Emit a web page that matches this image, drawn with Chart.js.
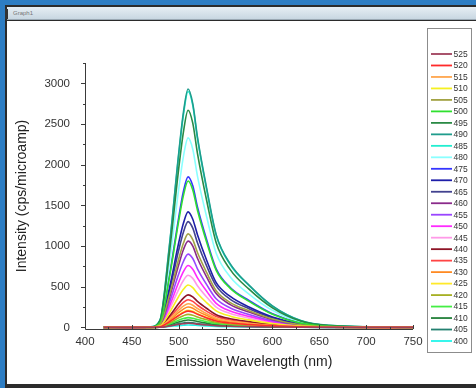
<!DOCTYPE html>
<html>
<head>
<meta charset="utf-8">
<script src="https://cdn.jsdelivr.net/npm/chart.js@4.4.1/dist/chart.umd.min.js"></script>
<style>
  html, body { margin: 0; padding: 0; }
  body { width: 476px; height: 388px; background: #2d7dc3; position: relative; overflow: hidden; }
  #frame { position: absolute; left: 5px; top: 5px; width: 471px; height: 383px; background: #2b2b2b; }
  #titlebar { position: absolute; left: 7px; top: 7px; right: 0; height: 13px; background: linear-gradient(#e6eef4, #c8d7e2); border-bottom: 1px solid #9aa8b3; font: 6px 'Liberation Sans', sans-serif; color: #777; line-height: 13px; padding-left: 6px; box-sizing: border-box; }
  #icon { position: absolute; left: 5px; top: 9px; width: 3px; height: 10px; background: #333; }
  #content { position: absolute; left: 7px; top: 21px; right: 0; bottom: 4px; background: #fff; }
  #chart { position: absolute; left: 0; top: 0; }
</style>
</head>
<body>
<div id="frame"></div>
<div id="titlebar">Graph1</div>
<div id="icon"></div>
<div id="content"></div>
<canvas id="chart" width="476" height="388"></canvas>
<script>
// emission wavelengths (nm) at which the spectra are sampled
const wavelengths = [420, 470, 480, 490, 500, 505, 510, 515, 520, 530, 540, 555, 575, 600, 630, 660, 750];

// excitation wavelengths, legend order
const excitationLabels = ['525', '520', '515', '510', '505', '500', '495', '490', '485', '480', '475', '470', '465',
                          '460', '455', '450', '445', '440', '435', '430', '425', '420', '415', '410', '405', '400'];

// intensity (cps/microamp) for each excitation wavelength
const ex525 = [0, 0, 1, 17, 37, 45, 50, 47, 40, 29, 20, 13, 9, 5, 1, 0, 0];
const ex520 = [0, 0, 6, 68, 146, 180, 200, 188, 160, 116, 78, 53, 35, 18, 6, 2, 0];
const ex515 = [0, 1, 9, 99, 212, 261, 290, 273, 232, 168, 113, 77, 51, 26, 8, 2, 0];
const ex510 = [0, 1, 16, 177, 380, 468, 520, 489, 416, 302, 203, 138, 92, 47, 15, 4, 0];
const ex505 = [0, 2, 35, 390, 840, 1035, 1150, 1080, 920, 670, 450, 305, 204, 104, 33, 9, 0];
const ex500 = [0, 4, 54, 610, 1310, 1620, 1800, 1690, 1440, 1040, 700, 480, 320, 162, 52, 14, 0];
const ex495 = [0, 5, 80, 910, 1950, 2400, 2670, 2510, 2140, 1550, 1040, 710, 470, 240, 77, 21, 0];
const ex490 = [0, 6, 90, 1000, 2140, 2640, 2930, 2750, 2340, 1700, 1140, 780, 520, 265, 85, 25, 0];
const ex485 = [0, 6, 85, 985, 2120, 2610, 2900, 2730, 2320, 1680, 1130, 770, 515, 260, 84, 23, 0];
const ex480 = [0, 5, 70, 790, 1700, 2100, 2330, 2190, 1860, 1350, 910, 620, 410, 210, 68, 19, 0];
const ex475 = [0, 4, 55, 630, 1350, 1670, 1850, 1740, 1480, 1070, 720, 490, 330, 167, 54, 15, 0];
const ex470 = [0, 3, 43, 480, 1040, 1280, 1420, 1330, 1140, 820, 550, 380, 250, 128, 41, 11, 0];
const ex465 = [0, 3, 39, 440, 950, 1170, 1300, 1220, 1040, 750, 510, 345, 230, 117, 38, 10, 0];
const ex460 = [0, 2, 32, 360, 770, 955, 1060, 1000, 850, 615, 415, 280, 188, 95, 31, 8, 0];
const ex455 = [0, 2, 27, 306, 657, 810, 900, 846, 720, 522, 351, 238, 159, 81, 26, 7, 0];
const ex450 = [0, 2, 23, 258, 555, 684, 760, 714, 608, 441, 296, 201, 135, 68, 22, 6, 0];
const ex445 = [0, 1, 19, 218, 467, 576, 640, 602, 512, 371, 250, 170, 113, 58, 19, 5, 0];
const ex440 = [0, 1, 12, 136, 292, 360, 400, 376, 320, 232, 156, 106, 71, 36, 12, 3, 0];
const ex435 = [0, 1, 10, 116, 248, 306, 340, 320, 272, 197, 133, 90, 60, 31, 10, 3, 0];
const ex430 = [0, 1, 8, 85, 183, 225, 250, 235, 200, 145, 98, 66, 44, 23, 7, 2, 0];
const ex425 = [0, 0, 6, 71, 153, 189, 210, 197, 168, 122, 82, 56, 37, 19, 6, 2, 0];
const ex420 = [0, 0, 5, 54, 117, 144, 160, 150, 128, 93, 62, 42, 28, 14, 5, 1, 0];
const ex415 = [0, 0, 4, 41, 88, 108, 120, 113, 96, 70, 47, 32, 21, 11, 3, 1, 0];
const ex410 = [0, 0, 3, 31, 66, 81, 90, 85, 72, 52, 35, 24, 16, 8, 3, 1, 0];
const ex405 = [0, 0, 2, 20, 44, 54, 60, 56, 48, 35, 23, 16, 11, 5, 2, 0, 0];
const ex400 = [0, 0, 1, 10, 22, 27, 30, 28, 24, 17, 12, 8, 5, 3, 1, 0, 0];

const spectra = [ex525, ex520, ex515, ex510, ex505, ex500, ex495, ex490, ex485, ex480, ex475, ex470, ex465,
                 ex460, ex455, ex450, ex445, ex440, ex435, ex430, ex425, ex420, ex415, ex410, ex405, ex400];

const xTickValues = [400, 450, 500, 550, 600, 650, 700, 750];
const yTickValues = [0, 500, 1000, 1500, 2000, 2500, 3000];

const lineColors = ['#a0405c', '#ff2a2a', '#ffa64d', '#f5f020', '#a3a345', '#2fe02f', '#2a8a45', '#1f9c8c',
                    '#22eed0', '#8affff', '#3535ff', '#1e1ea8', '#42428f', '#8a2a8a', '#9a45ff', '#ff2aff',
                    '#ff9ae8', '#8e1426', '#ff4545', '#ff8a22', '#ffe92a', '#a6b024', '#44ee44', '#23803a',
                    '#238070', '#22f5ea'];

const datasets = spectra.map((vals, i) => ({
  label: excitationLabels[i],
  data: vals.map((v, j) => ({ x: wavelengths[j], y: v })),
  borderColor: lineColors[i],
  backgroundColor: lineColors[i],
  borderWidth: 1.6,
  pointRadius: 0,
  cubicInterpolationMode: 'monotone',
  fill: false
}));

// Origin style axes (left + bottom), tick marks and boxed legend
const originDecor = {
  id: 'originDecor',
  afterDraw(chart) {
    const ctx = chart.ctx;
    const xs = chart.scales.x, ys = chart.scales.y;
    const area = chart.chartArea;
    ctx.save();
    ctx.strokeStyle = '#3a3a3a';
    ctx.lineWidth = 1;
    ctx.beginPath();
    ctx.moveTo(area.left + 0.5, area.top);
    ctx.lineTo(area.left + 0.5, area.bottom + 0.5);
    ctx.lineTo(area.right, area.bottom + 0.5);
    for (let v = 0; v <= 3250; v += 250) {
      const y = Math.round(ys.getPixelForValue(v)) + 0.5;
      const len = v % 500 === 0 ? 4 : 2;
      ctx.moveTo(area.left - len, y);
      ctx.lineTo(area.left, y);
    }
    for (let v = 400; v <= 750; v += 25) {
      const x = Math.round(xs.getPixelForValue(v)) + 0.5;
      const len = v % 50 === 0 ? 4 : 2;
      ctx.moveTo(x, area.bottom - len);
      ctx.lineTo(x, area.bottom);
    }
    ctx.stroke();

    // legend box
    const box = { left: 427.5, top: 28.5, right: 471.5, bottom: 352.5 };
    ctx.strokeStyle = '#8c8c8c';
    ctx.strokeRect(box.left, box.top, box.right - box.left, box.bottom - box.top);
    ctx.font = '8.5px "Liberation Sans", sans-serif';
    ctx.textBaseline = 'middle';
    ctx.fillStyle = '#333';
    chart.data.datasets.forEach((ds, i) => {
      const y = 54 + i * 11.48;
      ctx.strokeStyle = ds.borderColor;
      ctx.lineWidth = 1.8;
      ctx.beginPath();
      ctx.moveTo(431, y);
      ctx.lineTo(452, y);
      ctx.stroke();
      ctx.fillText(ds.label, 453.5, y + 0.5);
    });
    ctx.restore();
  }
};

new Chart(document.getElementById('chart'), {
  type: 'line',
  data: { datasets: datasets },
  plugins: [originDecor],
  options: {
    responsive: false,
    animation: false,
    layout: { padding: { left: 7, top: 63, right: 63, bottom: 4 } },
    plugins: { legend: { display: false }, tooltip: { enabled: false } },
    scales: {
      x: {
        type: 'linear',
        min: 400,
        max: 750,
        grid: { display: false },
        border: { display: false },
        afterBuildTicks: s => { s.ticks = xTickValues.map(v => ({ value: v })); },
        afterFit: s => { s.height = 55; },
        ticks: { color: '#333', padding: -2, maxRotation: 0, font: { size: 11.5, family: 'Liberation Sans' },
                 callback: v => String(v) },
        title: { display: true, text: 'Emission Wavelength (nm)', color: '#222',
                 font: { size: 14, family: 'Liberation Sans' }, padding: { top: 0, bottom: 13 } }
      },
      y: {
        min: -20,
        max: 3250,
        grid: { display: false },
        border: { display: false },
        afterBuildTicks: s => { s.ticks = yTickValues.map(v => ({ value: v })); },
        afterFit: s => { s.width = 78; },
        ticks: { color: '#333', padding: 7, font: { size: 11.5, family: 'Liberation Sans' },
                 callback: v => String(v) },
        title: { display: true, text: 'Intensity (cps/microamp)', color: '#222',
                 font: { size: 14, family: 'Liberation Sans' }, padding: { top: 7, bottom: 0 } }
      }
    }
  }
});
</script>
</body>
</html>
